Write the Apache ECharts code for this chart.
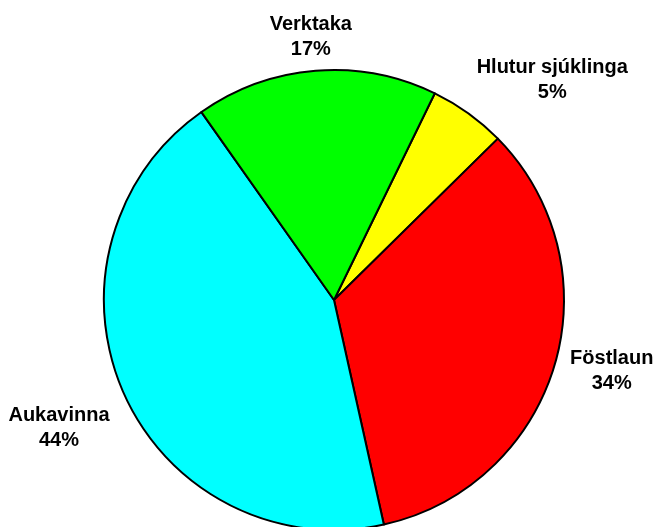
<!DOCTYPE html>
<html>
<head>
<meta charset="utf-8">
<script src="https://cdn.jsdelivr.net/npm/echarts@6/dist/echarts.min.js"></script>
<style>
	html, body { margin: 0; padding: 0; background: #fff; }
	#chart { width: 655px; height: 527px; }
</style>
</head>
<body>
<div id="chart"></div>
<script>
	// sneiðar, réttsælis frá gulu
	var names = ['Hlutur sjúklinga', 'Föstlaun', 'Aukavinna', 'Verktaka'];
	var values = [5.4, 33.9, 43.7, 17.0];
	var colors = ['#ffff00', '#ff0000', '#00ffff', '#00ff00'];
	// lengd merkilínu (ósýnileg) til að staðsetja textann
	var lineLen = [41, 20, 86, 34];
	var lineLen2 = [55, 33, -19, -3];

	var seriesData = [];
	for(var i = 0; i < names.length; i++) {
		seriesData.push({
			name: names[i],
			value: values[i],
			itemStyle: {
				color: colors[i]
			},
			labelLine: {
				show: false,
				length: lineLen[i],
				length2: lineLen2[i]
			}
		});
	}

	var myChart = echarts.init(document.getElementById('chart'));
	var option = {
		backgroundColor: '#ffffff',
		animation: false,
		series: [{
			type: 'pie',
			center: [334, 300],
			radius: 230,
			startAngle: 64,
			clockwise: true,
			avoidLabelOverlap: false,
			itemStyle: {
				borderColor: '#000000',
				borderWidth: 2
			},
			label: {
				show: true,
				position: 'outside',
				color: '#000000',
				fontFamily: 'Liberation Sans, Arial, sans-serif',
				fontWeight: 'bold',
				fontSize: 20,
				lineHeight: 25,
				formatter: function(p) {
					return p.name + '\n' + Math.round(p.percent) + '%';
				}
			},
			labelLayout: {
				align: 'center'
			},
			emphasis: {
				disabled: true
			},
			data: seriesData
		}]
	};
	myChart.setOption(option);

	window.onresize = function() {
		myChart.resize();
	}
</script>
</body>
</html>
